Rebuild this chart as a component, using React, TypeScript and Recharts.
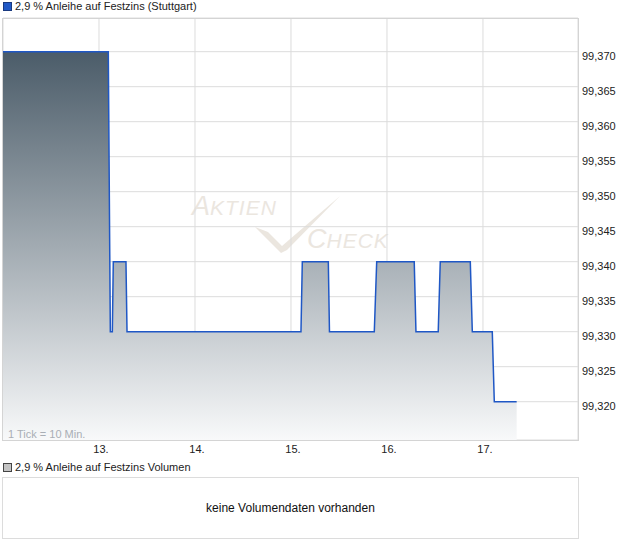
import React from 'react';
import { ComposedChart, Area, XAxis, YAxis, CartesianGrid } from 'recharts';

// time in days (fractional)
const times = [12.0, 13.097, 13.118, 13.139, 13.149, 13.281, 13.292, 15.104, 15.118, 15.389, 15.401, 15.868, 15.893, 16.284, 16.302, 16.534, 16.555, 16.868, 16.889, 17.097, 17.118, 17.351];
const prices = [99.37, 99.37, 99.33, 99.33, 99.34, 99.34, 99.33, 99.33, 99.34, 99.34, 99.33, 99.33, 99.34, 99.34, 99.33, 99.33, 99.34, 99.34, 99.33, 99.33, 99.32, 99.32];
const dayTicks = [13, 14, 15, 16, 17];
const dayLabels = ['13.', '14.', '15.', '16.', '17.'];
const priceTicks = [99.32, 99.325, 99.33, 99.335, 99.34, 99.345, 99.35, 99.355, 99.36, 99.365, 99.37];

const seriesName = '2,9 % Anleihe auf Festzins (Stuttgart)';
const volumeName = '2,9 % Anleihe auf Festzins Volumen';
const noVolume = 'keine Volumendaten vorhanden';
const tickNote = '1 Tick = 10 Min.';

const data = times.map((t, i) => ({ t, p: prices[i] }));

const FONT = '"Liberation Sans", Arial, sans-serif';

const YTick = (props: any) => {
  const { x, y, payload } = props;
  return (
    <text x={x} y={y + 8.5} fontSize={11} fontFamily={FONT} fill="#222" textAnchor="start">
      {payload.value.toFixed(3).replace('.', ',')}
    </text>
  );
};

const XTick = (props: any) => {
  const { x, y, payload } = props;
  const idx = dayTicks.indexOf(payload.value);
  return (
    <text x={x + 2} y={y + 11} fontSize={11} fontFamily={FONT} fill="#222" textAnchor="middle">
      {idx >= 0 ? dayLabels[idx] : ''}
    </text>
  );
};

export default function App() {
  return (
    <div style={{ position: 'absolute', left: 0, top: 0, width: 620, height: 546, background: '#fff', fontFamily: FONT }}>
      {/* top legend */}
      <div style={{ position: 'absolute', left: 3, top: 2, width: 7, height: 7, background: '#2159c6', border: '1px solid #1a3a80' }} />
      <div style={{ position: 'absolute', left: 15, top: -1, fontSize: 11, color: '#222', whiteSpace: 'nowrap', lineHeight: '14px' }}>{seriesName}</div>

      {/* watermark */}
      <svg style={{ position: 'absolute', left: 0, top: 0 }} width={620} height={460}>
        <text x={192} y={215} fill="#ebe6df" fontFamily={FONT} fontStyle="italic">
          <tspan fontSize={27}>A</tspan><tspan fontSize={21} letterSpacing={1}>KTIEN</tspan>
        </text>
        <path d="M255,227 L268,232 L282,246 L340,196 L287,250 L281,253 Z" fill="#ebe6df" />
        <text x={307} y={248} fill="#ebe6df" fontFamily={FONT} fontStyle="italic">
          <tspan fontSize={27}>C</tspan><tspan fontSize={21} letterSpacing={1}>HECK</tspan>
        </text>
      </svg>

      <div style={{ position: 'absolute', left: 0, top: 0 }}>
        <ComposedChart width={620} height={460} data={data} margin={{ top: 18, right: 0, left: 3, bottom: 0 }}>
          <defs>
            <linearGradient id="areaFill" x1="0" y1="0" x2="0" y2="1">
              <stop offset="0%" stopColor="#4b5c69" />
              <stop offset="100%" stopColor="#f8f9fa" />
            </linearGradient>
          </defs>
          <CartesianGrid stroke="#dcdcdc" />
          <XAxis
            dataKey="t"
            type="number"
            domain={[12, 17.99]}
            allowDataOverflow
            ticks={dayTicks}
            axisLine={false}
            tickLine={false}
            tickSize={0}
            height={20}
            tick={<XTick />}
            interval={0}
          />
          <YAxis
            orientation="right"
            type="number"
            domain={[99.31453, 99.37481]}
            allowDataOverflow
            ticks={priceTicks}
            axisLine={false}
            tickLine={false}
            tickSize={0}
            tickMargin={4}
            width={42}
            tick={<YTick />}
            interval={0}
          />
          <Area
            dataKey="p"
            type="linear"
            stroke="#1f57c5"
            strokeWidth={1.5}
            fill="url(#areaFill)"
            fillOpacity={1}
            isAnimationActive={false}
            dot={false}
            activeDot={false}
          />
        </ComposedChart>
      </div>

      {/* plot frame */}
      <div style={{ position: 'absolute', left: 2, top: 18, width: 575, height: 421, border: '1px solid #d4d4d4', pointerEvents: 'none' }} />
      <div style={{ position: 'absolute', left: 8, top: 428, fontSize: 11, color: '#a9aeb5', whiteSpace: 'nowrap', lineHeight: '13px' }}>{tickNote}</div>

      {/* volume panel */}
      <div style={{ position: 'absolute', left: 3, top: 463, width: 7, height: 7, background: '#c4c4c4', border: '1px solid #444' }} />
      <div style={{ position: 'absolute', left: 15, top: 460, fontSize: 11, color: '#222', whiteSpace: 'nowrap', lineHeight: '14px' }}>{volumeName}</div>
      <div style={{ position: 'absolute', left: 2, top: 477, width: 575, height: 60, border: '1px solid #dcdcdc', display: 'flex', alignItems: 'center', justifyContent: 'center', fontSize: 12, color: '#111' }}>
        {noVolume}
      </div>
    </div>
  );
}
